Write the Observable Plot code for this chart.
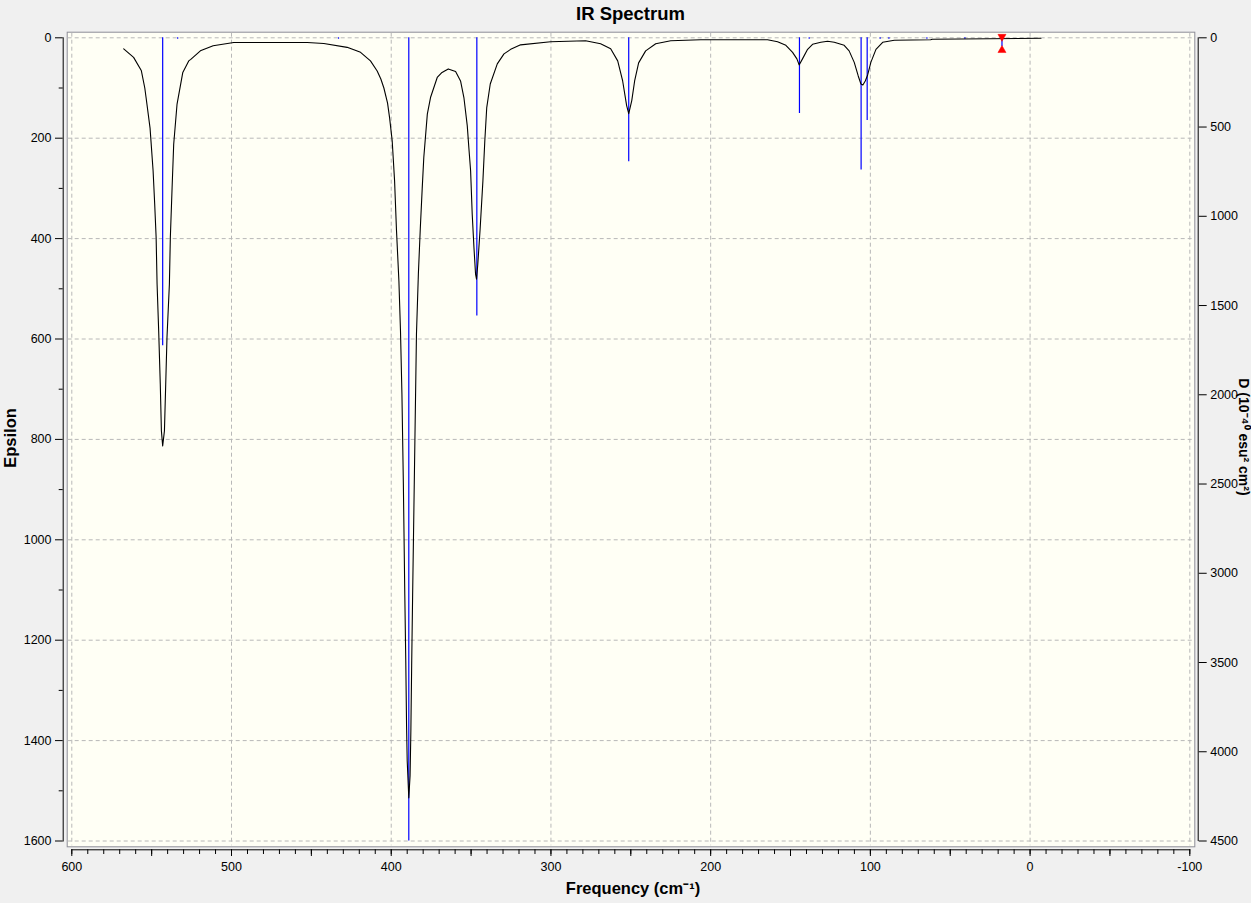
<!DOCTYPE html>
<html><head><meta charset="utf-8">
<script src="https://cdn.jsdelivr.net/npm/d3@7"></script>
<script src="https://cdn.jsdelivr.net/npm/@observablehq/plot@0.6"></script>
<style>
html,body{margin:0;padding:0;background:#f0f0f0;}
#wrap{position:relative;width:1251px;height:903px;overflow:hidden;font-family:"Liberation Sans",Arial,sans-serif;}
.t{position:absolute;font-weight:bold;white-space:nowrap;color:#000;line-height:20px;}
#chart{position:absolute;left:0;top:0;}
</style></head><body><div id="wrap">
<div id="chart"></div>
<div class="t" style="left:0;width:1261px;top:4px;text-align:center;font-size:18.5px;">IR Spectrum</div>
<div class="t" style="left:633px;top:888px;transform:translate(-50%,-50%);font-size:16.5px;">Frequency (cm⁻¹)</div>
<div class="t" style="left:10px;top:438px;transform:translate(-50%,-50%) rotate(-90deg);font-size:16.5px;">Epsilon</div>
<div class="t" style="left:1244px;top:437px;transform:translate(-50%,-50%) rotate(90deg);font-size:14px;">D (10⁻⁴⁰ esu² cm²)</div>
</div>
<script>
// ---- data ----
const curveFreq = [567.5, 561.3, 556.5, 554.3, 553.5, 551.0, 549.1, 548.1, 547.2, 546.6, 545.6, 544.6, 543.9, 543.1,
  542.0, 541.2, 540.4, 538.9, 538.3, 537.2, 536.2, 534.1, 530.5, 526.8, 525.5, 519.5, 511.5, 498.6, 452.6, 442.2,
  427.6, 419.2, 413.0, 408.8, 406.5, 404.6, 402.3, 401.0, 399.4, 397.9, 396.7, 395.2, 394.2, 393.3, 392.4, 391.5,
  390.9, 390.4, 390.0, 389.0, 388.2, 387.7, 387.2, 386.6, 385.4, 384.2, 383.0, 381.8, 380.6, 379.6, 377.4, 375.4,
  371.2, 368.2, 364.3, 359.7, 356.6, 354.5, 352.4, 351.4, 350.3, 349.3, 348.2, 347.2, 346.6, 345.8, 344.4, 342.6,
  341.4, 340.2, 338.0, 333.6, 329.4, 325.2, 319.0, 300.2, 278.3, 268.9, 262.6, 258.2, 255.1, 252.6, 251.3, 249.4,
  247.6, 245.1, 240.7, 234.4, 225.0, 206.2, 168.6, 164.4, 158.1, 152.9, 148.7, 146.0, 144.6, 142.5, 139.3, 136.2,
  131.0, 126.8, 122.6, 116.4, 113.3, 110.1, 107.6, 105.9, 104.7, 103.2, 101.7, 99.7, 96.5, 92.3, 85.0, 62.3, 61.2, -6.8];
const curveEps = [22, 39, 65, 100, 119, 180, 265, 331, 398, 491, 584, 690, 783, 813,
  783, 690, 597, 491, 398, 298, 212, 132, 69, 46, 43, 26, 16, 9.3, 9.3, 11.3,
  19, 29, 46, 66, 82, 100, 130, 160, 205, 285, 384, 484, 584, 710, 890, 1110,
  1240, 1370, 1440, 1514, 1470, 1380, 1250, 1110, 850, 590, 470, 380, 300, 238, 152, 119,
  79, 69, 62, 67, 86, 119, 175, 219, 265, 351, 418, 471, 481, 451, 384, 285,
  205, 139, 92, 52, 32, 23, 14, 8, 6, 12, 22, 46, 86, 135, 151, 125,
  86, 50, 26, 12, 6, 4, 4, 4, 8, 15, 29, 42, 54, 42, 23, 13,
  9, 7, 9, 15, 26, 49, 76, 92, 94, 86, 74, 49, 23, 9, 5, 4, 3, 1];
const stickFreq = [543.1, 533.7, 433.0, 389.0, 346.4, 251.3, 144.4, 138.3, 105.8, 102.0, 93.9, 88.4, 64.6, 40.8, 17.6];
const stickD    = [1726, 8, 8, 4500, 1558, 695, 424, 8, 741, 463, 8, 8, 8, 8, 50];
const markerFreq = [17.6, 17.6];
const markerEps = [-2.2, 24.7];
const markerRotate = [180, 0];
const xLabelTicks = [600, 500, 400, 300, 200, 100, 0, -100];
const xMidTicks = [550, 450, 350, 250, 150, 50, -50];
const xMinorTicks = d3.range(600, -101, -10);
const epsTicks = [0, 200, 400, 600, 800, 1000, 1200, 1400, 1600];
const epsMinorTicks = [100, 300, 500, 700, 900, 1100, 1300, 1500];
const dTicks = [0, 500, 1000, 1500, 2000, 2500, 3000, 3500, 4000, 4500];
const epsMax = 1600, dMax = 4500;

const curve = curveFreq.map((f, i) => ({f, eps: curveEps[i]}));
const sticks = stickFreq.map((f, i) => ({f, eps: stickD[i] * epsMax / dMax}));
const markers = markerFreq.map((f, i) => ({f, eps: markerEps[i], rot: markerRotate[i]}));

const chart = Plot.plot({
  width: 1251, height: 903,
  marginTop: 31.7, marginLeft: 62.7, marginRight: 53.3, marginBottom: 53.7,
  style: {fontFamily: '"Liberation Sans", Arial, sans-serif', fontSize: "12.5px", background: "transparent", color: "#000"},
  x: {domain: [600, -100], range: [71.3, 1189.3], label: null},
  y: {domain: [0, 1600], range: [37.3, 840.5], label: null},
  marks: [
    Plot.frame({fill: "#fffff5", stroke: "#8e8e98", insetLeft: 4, insetRight: 3.4, insetBottom: 3}),
    Plot.gridX({ticks: xLabelTicks, stroke: "#b8b8b8", strokeOpacity: 1, strokeDasharray: "4,3", insetTop: 1, insetBottom: 4}),
    Plot.gridY({ticks: epsTicks, stroke: "#b8b8b8", strokeOpacity: 1, strokeDasharray: "4,3", insetLeft: 5, insetRight: 4.4}),
    Plot.ruleX(sticks, {x: "f", y1: 0, y2: "eps", stroke: "#0000ff", strokeWidth: 1.2}),
    Plot.line(curve, {x: "f", y: "eps", stroke: "#000", strokeWidth: 1.1}),
    Plot.dot(markers, {x: "f", y: "eps", symbol: "triangle", r: 3, fill: "#ff0000", stroke: "#ff0000", strokeWidth: 0.5, rotate: "rot"}),
    Plot.frame({anchor: "left", stroke: "#000", insetTop: 5.6, insetBottom: 8.8}),
    Plot.frame({anchor: "right", stroke: "#000", insetTop: 5.6, insetBottom: 9.3}),
    Plot.frame({anchor: "bottom", stroke: "#000", insetLeft: 8.6, insetRight: 8.4}),
    Plot.axisY({anchor: "left", ticks: epsTicks, tickSize: 7.7, tickPadding: 4, tickFormat: d => String(d), label: null}),
    Plot.axisY({anchor: "left", ticks: epsMinorTicks, tickSize: 4, text: null, label: null}),
    Plot.axisY({anchor: "right", ticks: dTicks.map(v => v * epsMax / dMax), tickSize: 8, tickPadding: 4,
      tickFormat: d => String(Math.round(d * dMax / epsMax)), label: null}),
    Plot.axisX({anchor: "bottom", ticks: xLabelTicks, tickSize: 6.7, tickPadding: 5.4, tickFormat: d => String(d), label: null}),
    Plot.axisX({anchor: "bottom", ticks: xMidTicks, tickSize: 6.7, text: null, label: null}),
    Plot.axisX({anchor: "bottom", ticks: xMinorTicks, tickSize: 4.7, text: null, label: null})
  ]
});
document.getElementById("chart").appendChild(chart);
</script>
</body></html>
